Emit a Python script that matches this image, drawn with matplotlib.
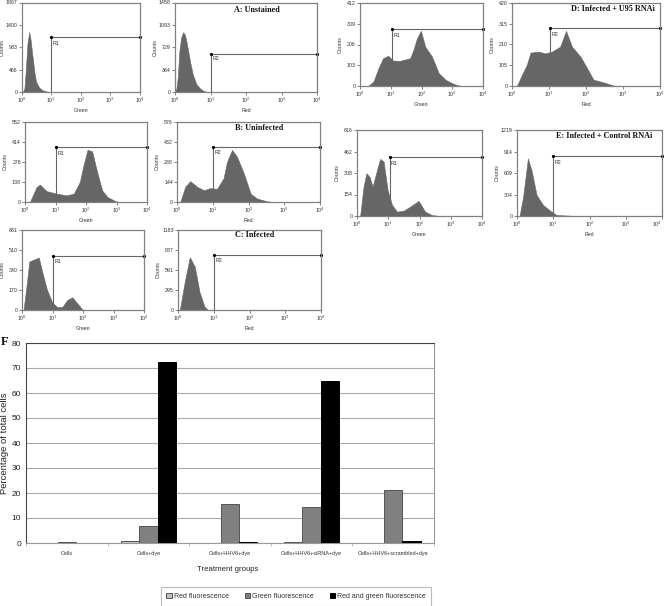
import numpy as np
import matplotlib
matplotlib.use('Agg')
import matplotlib.pyplot as plt

plt.rcParams['font.family'] = ['Liberation Sans', 'DejaVu Sans']
plt.rcParams['mathtext.default'] = 'regular'

W, H = 664, 606

# Histogram traces: position in decades, counts
a1_pos = [0.05, 0.1, 0.15, 0.2, 0.26, 0.3, 0.35, 0.4, 0.45, 0.5, 0.6, 0.7, 0.85, 1.0]
a1_val = [0, 80, 500, 1000, 1250, 1120, 850, 600, 350, 200, 90, 40, 10, 0]
a2_pos = [0, 0.04, 0.08, 0.12, 0.17, 0.23, 0.28, 0.33, 0.38, 0.43, 0.5, 0.6, 0.7, 0.8, 0.9]
a2_val = [0, 60, 250, 650, 880, 975, 930, 800, 640, 480, 290, 130, 60, 20, 0]
b1_pos = [0.16, 0.38, 0.49, 0.71, 1.03, 1.37, 1.6, 1.8, 1.92, 2.05, 2.2, 2.36, 2.53, 2.7, 2.97, 3.1]
b1_val = [0, 104, 120, 75, 58, 46, 58, 140, 255, 360, 350, 210, 80, 35, 5, 0]
b2_pos = [0.09, 0.23, 0.37, 0.56, 0.75, 0.93, 1.12, 1.3, 1.4, 1.54, 1.68, 1.87, 2.06, 2.24, 2.52, 2.7]
b2_val = [0, 110, 150, 110, 85, 100, 95, 170, 290, 375, 325, 205, 60, 25, 5, 0]
c1_pos = [0.05, 0.14, 0.24, 0.38, 0.55, 0.66, 0.82, 0.99, 1.15, 1.32, 1.48, 1.65, 1.81, 1.98, 2.1]
c1_val = [0, 185, 413, 428, 447, 328, 171, 65, 25, 25, 85, 108, 57, 5, 0]
c2_pos = [0.05, 0.19, 0.33, 0.47, 0.6, 0.74, 0.84]
c2_val = [0, 420, 780, 640, 270, 50, 0]
d1_pos = [0.27, 0.44, 0.6, 0.75, 0.92, 1.08, 1.3, 1.63, 1.74, 1.85, 1.98, 2.12, 2.34, 2.56, 2.78, 3.05, 3.27]
d1_val = [0, 23, 88, 138, 150, 126, 125, 138, 180, 236, 274, 195, 146, 64, 31, 10, 0]
d2_pos = [0.13, 0.27, 0.4, 0.5, 0.72, 0.9, 1.08, 1.3, 1.46, 1.62, 1.85, 2.03, 2.2, 2.48, 2.75, 2.9]
d2_val = [0, 57, 107, 169, 174, 165, 174, 199, 279, 199, 149, 90, 32, 18, 2, 0]
e1_pos = [0.1, 0.21, 0.3, 0.4, 0.5, 0.64, 0.74, 0.85, 0.98, 1.12, 1.28, 1.49, 1.7, 1.97, 2.18, 2.39, 2.65]
e1_val = [0, 210, 306, 282, 210, 330, 409, 390, 186, 79, 31, 38, 67, 108, 31, 7, 0]
e2_pos = [0.07, 0.17, 0.3, 0.4, 0.54, 0.72, 0.95, 1.09, 1.46, 1.56]
e2_val = [0, 274, 816, 650, 297, 156, 61, 14, 5, 0]

# Y tick labels and region gates
a1_ticks = [0, 466, 933, 1400, 1867]
a2_ticks = [0, 364, 729, 1093, 1458]
b1_ticks = [0, 138, 276, 414, 552]
b2_ticks = [0, 144, 288, 432, 576]
c1_ticks = [0, 170, 340, 510, 681]
c2_ticks = [0, 295, 591, 887, 1183]
d1_ticks = [0, 103, 206, 309, 412]
d2_ticks = [0, 105, 210, 315, 420]
e1_ticks = [0, 154, 308, 462, 616]
e2_ticks = [0, 304, 609, 914, 1219]
gate_counts = [1138, 623, 378, 399, 462, 817, 281, 291, 420, 850]
gate_pos = [1.0, 1.0, 1.03, 1.0, 1.03, 1.0, 1.05, 1.03, 1.04, 1.0]

# Bar chart
groups = ['Cells', 'Cells+dye', 'Cells+HHV6+dye', 'Cells+HHV6+siRNA+dye', 'Cells+HHV6+scrambled+dye']
red_fl = [0.2, 1.0, 0, 0.3, 0]
green_fl = [0.4, 6.8, 15.5, 14.6, 21.4]
both_fl = [0, 72.5, 0.3, 65, 1.0]


def px_axes(left, top, right, bottom):
    return fig.add_axes([left / W, 1 - bottom / H, (right - left) / W, (bottom - top) / H])


def flow_panel(box, pos, val, ticks, xlab, gate_name, gate_x, gate_y):
    ax = px_axes(*box)
    x = 10 ** np.array(pos)
    ax.fill_between(x, val, 0, color='#666666', lw=0.4)
    ax.set_xscale('log')
    ax.set_xlim(1, 1e4)
    ax.set_ylim(0, ticks[-1])
    ax.set_xticks([1, 10, 100, 1000, 10000])
    ax.set_xticklabels(['$10^{%d}$' % i for i in range(5)])
    ax.minorticks_off()
    ax.set_yticks(ticks)
    ax.tick_params(labelsize=3.8, length=2, width=0.5, color='#555555', pad=1, labelcolor='#333333')
    ax.set_xlabel(xlab, fontsize=3.8, labelpad=2, color='#333333')
    ax.set_ylabel('Counts', fontsize=3.8, color='#333333')
    ax.yaxis.set_label_coords(-17 / (box[2] - box[0]), 0.5)
    for s in ax.spines.values():
        s.set_color('#808080')
        s.set_linewidth(0.9)
    gx = 10 ** gate_x
    ax.plot([gx, gx], [0, gate_y], color='#666666', lw=0.8)
    ax.plot([gx, 1e4], [gate_y, gate_y], color='#666666', lw=0.8)
    ax.plot([gx, 1e4], [gate_y, gate_y], 'o', color='black', ms=1.3, clip_on=False)
    ax.text(gx * 1.12, gate_y * 0.94, gate_name, fontsize=3.8, va='top', color='#333333')
    return ax


fig = plt.figure(figsize=(W / 100, H / 100), dpi=100)

flow_panel((21.5, 2.5, 140, 92), a1_pos, a1_val, a1_ticks, 'Green', 'R1', gate_pos[0], gate_counts[0])
flow_panel((175, 2.5, 317, 92), a2_pos, a2_val, a2_ticks, 'Red', 'R2', gate_pos[1], gate_counts[1])
flow_panel((25, 122, 147, 202), b1_pos, b1_val, b1_ticks, 'Green', 'R1', gate_pos[2], gate_counts[2])
flow_panel((177, 122, 320, 202), b2_pos, b2_val, b2_ticks, 'Red', 'R2', gate_pos[3], gate_counts[3])
flow_panel((22, 230, 144, 310), c1_pos, c1_val, c1_ticks, 'Green', 'R1', gate_pos[4], gate_counts[4])
flow_panel((178, 230, 321, 310), c2_pos, c2_val, c2_ticks, 'Red', 'R2', gate_pos[5], gate_counts[5])
flow_panel((360, 3, 483, 86), d1_pos, d1_val, d1_ticks, 'Green', 'R1', gate_pos[6], gate_counts[6])
flow_panel((512, 3, 660, 86), d2_pos, d2_val, d2_ticks, 'Red', 'R2', gate_pos[7], gate_counts[7])
flow_panel((357, 130, 482, 216), e1_pos, e1_val, e1_ticks, 'Green', 'R1', gate_pos[8], gate_counts[8])
ax_e2 = flow_panel((517, 130, 662, 216), e2_pos, e2_val, e2_ticks, 'Red', 'R2', gate_pos[9], gate_counts[9])
# last label sits against the image edge
ax_e2.get_xticklabels()[-1].set_ha('right')

# Panel letters
for txt, px, py in [('A: Unstained', 234, 10), ('B: Uninfected', 235, 128), ('C: Infected', 235, 235),
                    ('D: Infected + U95 RNAi', 571, 9), ('E: Infected + Control RNAi', 556, 136), ('F', 1, 342)]:
    fig.text(px / W, 1 - py / H, txt, family='Liberation Serif', weight='bold',
             fontsize=9 if txt == 'F' else 5.9, va='center', ha='left', color='#111111')

# Panel F
ax = px_axes(26, 343, 434, 543)
xs = np.arange(len(groups)) + 0.5
bw = 0.224
ax.bar(xs - bw, red_fl, bw, color='#c0c0c0', edgecolor='#555555', lw=0.7, label='Red fluorescence', zorder=3)
ax.bar(xs, green_fl, bw, color='#808080', edgecolor='#555555', lw=0.7, label='Green fluorescence', zorder=3)
ax.bar(xs + bw, both_fl, bw, color='black', edgecolor='black', lw=0.7, label='Red and green fluorescence', zorder=3)
ax.set_xlim(0, 5)
ax.set_ylim(0, 80)
ax.set_yticks(range(0, 81, 10))
ax.yaxis.grid(True, color='#aaaaaa', lw=0.8, zorder=0)
ax.set_xticks(range(6))
ax.set_xticklabels([])
ax.set_xticks(xs, minor=True)
ax.set_xticklabels(groups, minor=True, fontsize=4.0, color='#333333')
ax.tick_params(axis='x', which='major', length=2, width=0.5, color='#aaaaaa', direction='out')
ax.tick_params(axis='x', which='minor', length=0, pad=6)
ax.tick_params(axis='y', length=0, labelsize=6, pad=3.5, labelcolor='#222222')
for side in ['left', 'top']:
    ax.spines[side].set_color('#444444')
for side in ['right', 'bottom']:
    ax.spines[side].set_color('#999999')
for s in ax.spines.values():
    s.set_linewidth(0.8)
fig.text(5 / W, 1 - 443 / H, 'Percentage of total cells', rotation=90, fontsize=6.8,
         va='center', ha='center', color='#222222')
fig.text(228 / W, 1 - 569.5 / H, 'Treatment groups', fontsize=5.6, va='center', ha='center', color='#222222')

leg = fig.legend(loc='center', bbox_to_anchor=(296 / W, 1 - 596.5 / H), ncol=3, fontsize=5,
                 fancybox=False, edgecolor='#bbbbbb', handlelength=0.8, handleheight=0.8,
                 handletextpad=0.25, columnspacing=2.3, borderpad=0.8, framealpha=1)
leg.get_frame().set_linewidth(0.8)
for t in leg.get_texts():
    t.set_color('#333333')

fig.savefig('out.png', dpi=100)
